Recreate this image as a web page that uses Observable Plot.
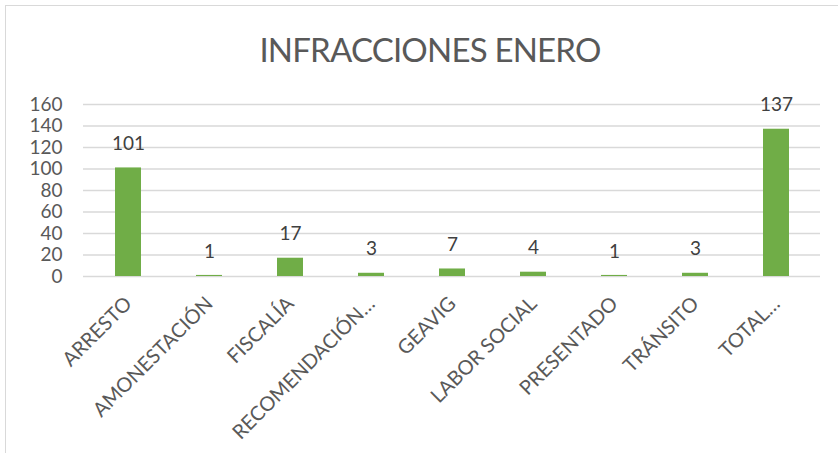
<!DOCTYPE html>
<html>
<head>
<meta charset="utf-8">
<script src="https://cdn.jsdelivr.net/npm/d3@7"></script>
<script src="https://cdn.jsdelivr.net/npm/@observablehq/plot@0.6"></script>
<style>
  html, body { margin: 0; padding: 0; background: #fff; }
  body { width: 838px; height: 453px; overflow: hidden; position: relative; font-family: Lato, "Open Sans", sans-serif; }
  #frame { position: absolute; left: 5px; top: 5px; width: 900px; height: 500px; border: 1.5px solid #d9d9d9; box-sizing: border-box; }
  #title { position: absolute; left: 0; top: 0; width: 860px; height: 80px; text-align: center; color: #595959; font-size: 33px; line-height: 1; padding-top: 33px; box-sizing: border-box; letter-spacing: -0.8px; }
  #chart { position: absolute; left: 0; top: 80px; }
</style>
</head>
<body>
<div id="frame"></div>
<div id="title">INFRACCIONES ENERO</div>
<div id="chart"></div>
<script>
const categories = ["ARRESTO", "AMONESTACIÓN", "FISCALÍA", "RECOMENDACIÓN…", "GEAVIG", "LABOR SOCIAL", "PRESENTADO", "TRÁNSITO", "TOTAL…"];
const values = [101, 1, 17, 3, 7, 4, 1, 3, 137];
const yTicks = [0, 20, 40, 60, 80, 100, 120, 140, 160];

const data = categories.map((c, i) => ({category: c, value: values[i]}));

const plot = Plot.plot({
  width: 838,
  height: 373,
  marginTop: 24,
  marginBottom: 177,
  marginLeft: 83,
  marginRight: 18,
  style: {fontFamily: "Lato, 'Open Sans', sans-serif", background: "transparent", overflow: "visible"},
  x: {domain: categories, paddingInner: 0.68, paddingOuter: 0.34, label: null},
  y: {domain: [0, 160], label: null},
  marks: [
    Plot.gridY(yTicks, {stroke: "#d9d9d9", strokeOpacity: 1, strokeWidth: 1.5}),
    Plot.barY(data, {x: "category", y: "value", fill: "#70ad47"}),
    Plot.text(data, {x: "category", y: "value", text: d => String(d.value), dy: -24, lineAnchor: "middle", fill: "#404040", fontSize: 19}),
    Plot.axisY(yTicks, {tickSize: 0, tickPadding: 21, fontSize: 19, color: "#595959", label: null}),
    Plot.axisX({tickSize: 0, tickRotate: -45, tickPadding: 24, fontSize: 20, color: "#595959", label: null})
  ]
});
document.getElementById("chart").appendChild(plot);
</script>
</body>
</html>
